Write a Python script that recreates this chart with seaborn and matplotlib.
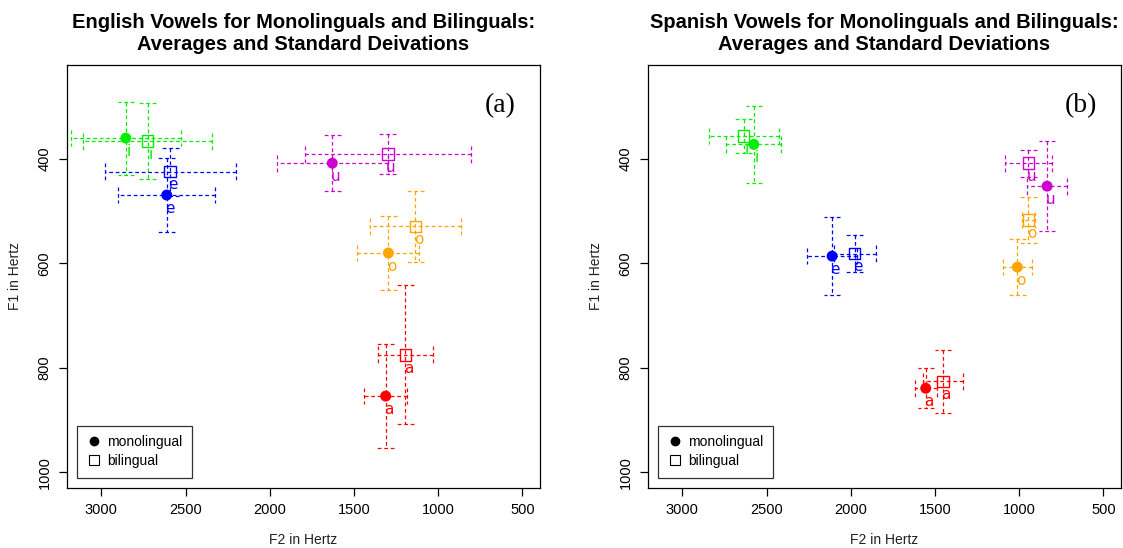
import matplotlib
matplotlib.use("Agg")
import matplotlib.pyplot as plt
from matplotlib.lines import Line2D
import seaborn as sns
import pandas as pd

# ---------------- data ----------------
vowels = ["i", "e", "u", "o", "a"]
vowel_colors = ["#00EE00", "#0000FF", "#CD00CD", "#FFA500", "#FF0000"]

# English
eng_mono_f2 = [2855, 2612, 1629, 1296, 1312]
eng_mono_f1 = [360, 469, 408, 580, 854]
eng_mono_sd_f2 = [325, 288, 330, 184, 126]
eng_mono_sd_f1 = [70, 70, 54, 71, 100]
eng_bil_f2 = [2725, 2591, 1300, 1136, 1195]
eng_bil_f1 = [366, 424, 391, 529, 775]
eng_bil_sd_f2 = [383, 388, 493, 272, 162]
eng_bil_sd_f1 = [73, 46, 38, 68, 133]

# Spanish
spa_mono_f2 = [2576, 2111, 835, 1011, 1555]
spa_mono_f1 = [372, 586, 452, 607, 839]
spa_mono_sd_f2 = [162, 149, 119, 86, 64]
spa_mono_sd_f1 = [74, 74, 86, 54, 38]
spa_bil_f2 = [2636, 1977, 946, 946, 1454]
spa_bil_f1 = [356, 581, 408, 517, 826]
spa_bil_sd_f2 = [208, 125, 138, 40, 119]
spa_bil_sd_f1 = [33, 36, 26, 44, 60]

x_ticks = [3000, 2500, 2000, 1500, 1000, 500]
y_ticks = [400, 600, 800, 1000]
titles = ["English Vowels for Monolinguals and Bilinguals:\nAverages and Standard Deivations",
          "Spanish Vowels for Monolinguals and Bilinguals:\nAverages and Standard Deviations"]
panel_tags = ["(a)", "(b)"]

# ---------------- style ----------------
sns.set_theme(style="white")
plt.rcParams["font.family"] = ["Liberation Sans", "DejaVu Sans"]

W, H = 1123, 548
fig = plt.figure(figsize=(W / 100, H / 100), dpi=100)
ax_boxes = [(67, 65, 540, 488), (648, 65, 1121, 488)]
axes = [fig.add_axes([l / W, 1 - b / H, (r - l) / W, (b - t) / H]) for (l, t, r, b) in ax_boxes]

palette = dict(zip(vowels, vowel_colors))
DASH = (0, (3, 2.2))
CAP_X = 49   # half cap length in F2 units
CAP_Y = 16   # half cap length in F1 units

def make_df(f2, f1, sdf2, sdf1, group):
    return pd.DataFrame({"vowel": vowels, "F2": f2, "F1": f1,
                         "sdF2": sdf2, "sdF1": sdf1, "group": group})

panels = [
    (make_df(eng_mono_f2, eng_mono_f1, eng_mono_sd_f2, eng_mono_sd_f1, "monolingual"),
     make_df(eng_bil_f2, eng_bil_f1, eng_bil_sd_f2, eng_bil_sd_f1, "bilingual")),
    (make_df(spa_mono_f2, spa_mono_f1, spa_mono_sd_f2, spa_mono_sd_f1, "monolingual"),
     make_df(spa_bil_f2, spa_bil_f1, spa_bil_sd_f2, spa_bil_sd_f1, "bilingual")),
]

for k, ax in enumerate(axes):
    mono, bil = panels[k]
    for df in (mono, bil):
        for _, row in df.iterrows():
            c = palette[row["vowel"]]
            eb = ax.errorbar(row["F2"], row["F1"], xerr=row["sdF2"], yerr=row["sdF1"],
                             fmt="none", ecolor=c, elinewidth=0.9, capsize=0, zorder=2)
            for lc in eb[2]:
                lc.set_linestyle(DASH)
            # dashed caps
            ax.vlines([row["F2"] - row["sdF2"], row["F2"] + row["sdF2"]],
                      row["F1"] - CAP_Y, row["F1"] + CAP_Y, colors=c,
                      linewidth=0.9, linestyles=DASH, zorder=2)
            ax.hlines([row["F1"] - row["sdF1"], row["F1"] + row["sdF1"]],
                      row["F2"] - CAP_X, row["F2"] + CAP_X, colors=c,
                      linewidth=0.9, linestyles=DASH, zorder=2)
    # points
    sns.scatterplot(data=mono, x="F2", y="F1", hue="vowel", palette=palette,
                    marker="o", s=62, linewidth=0, legend=False, ax=ax, zorder=4)
    sns.scatterplot(data=bil, x="F2", y="F1", hue="vowel", palette=palette,
                    marker="s", s=70, linewidth=1.0, legend=False, ax=ax, zorder=4)
    coll = ax.collections[-1]
    coll.set_edgecolors(coll.get_facecolors())
    coll.set_facecolors("none")
    # vowel labels
    for df in (mono, bil):
        for _, row in df.iterrows():
            ax.annotate(row["vowel"], (row["F2"], row["F1"]), xytext=(2.2, -9.5),
                        textcoords="offset points", ha="center", va="center",
                        fontsize=11, family="DejaVu Sans",
                        color=palette[row["vowel"]], zorder=5)

    ax.set_xlim(3204, 396)
    ax.set_ylim(1030, 220)
    ax.set_xticks(x_ticks)
    ax.set_yticks(y_ticks)
    ax.set_xticklabels([str(v) for v in x_ticks], fontsize=10.5)
    ax.set_yticklabels([str(v) for v in y_ticks], fontsize=10.5, rotation=90, va="center")
    ax.tick_params(axis="both", direction="out", length=6, width=0.9,
                   color="black", labelcolor="black", bottom=True, left=True, pad=5)
    ax.set_xlabel("F2 in Hertz", fontsize=10, labelpad=11, color="#222222")
    ax.set_ylabel("F1 in Hertz", fontsize=10, labelpad=11, color="#222222")
    for sp in ax.spines.values():
        sp.set_visible(True)
        sp.set_color("black")
        sp.set_linewidth(0.9)
    ax.set_title(titles[k], fontsize=14.5, fontweight="bold", pad=11, linespacing=1.15,
                 color="black")
    ax.text(0.915, 0.905, panel_tags[k], transform=ax.transAxes, ha="center", va="center",
            fontsize=20, family="Liberation Serif", color="black")

    handles = [Line2D([0], [0], marker="o", color="none", markerfacecolor="black",
                      markeredgecolor="black", markersize=6, label="monolingual"),
               Line2D([0], [0], marker="s", color="none", markerfacecolor="none",
                      markeredgecolor="black", markersize=7, markeredgewidth=0.8,
                      label="bilingual")]
    leg = ax.legend(handles=handles, loc="lower left", bbox_to_anchor=(0.021, 0.024),
                    frameon=True, fancybox=False, edgecolor="black", fontsize=10,
                    handlelength=1.0, handletextpad=0.5, borderpad=0.7,
                    labelspacing=0.35, borderaxespad=0)
    leg.get_frame().set_linewidth(0.9)
    for t in leg.get_texts():
        t.set_color("black")

fig.savefig("out.png", dpi=100)
